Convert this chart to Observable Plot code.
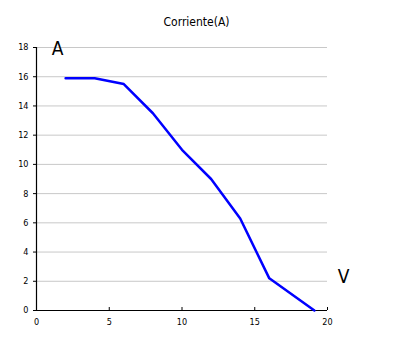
<!DOCTYPE html>
<html><head><meta charset="utf-8">
<script src="https://cdn.jsdelivr.net/npm/d3@7"></script>
<script src="https://cdn.jsdelivr.net/npm/@observablehq/plot@0.6"></script>
<style>body{margin:0;background:#fff;} svg{font-family:"Liberation Sans Narrow","DejaVu Sans Condensed",sans-serif;}</style>
</head><body><div id="chart"></div>
<script>
const voltage = [2, 4, 6, 8, 10, 12, 14, 16, 19.1];
const current = [15.9, 15.9, 15.5, 13.5, 11, 9, 6.3, 2.2, 0];
const xTicks = [0, 5, 10, 15, 20];
const yTicks = [0, 2, 4, 6, 8, 10, 12, 14, 16, 18];
const title = "Corriente(A)";
const yLabel = "A";
const xLabel = "V";

const data = voltage.map((v, i) => ({v, a: current[i]}));
const font = "'Liberation Sans Narrow','DejaVu Sans Condensed',sans-serif";

const chart = Plot.plot({
  width: 398, height: 337,
  marginLeft: 36, marginRight: 71, marginTop: 47, marginBottom: 27,
  style: {fontFamily: font, background: "#fff", color: "#000"},
  x: {domain: [0, 20]},
  y: {domain: [0, 18]},
  marks: [
    Plot.gridY(yTicks, {stroke: "#c8c8c8", strokeOpacity: 1}),
    Plot.axisY({ticks: yTicks, tickSize: 3, tickPadding: 5, fontSize: 9, label: null, color: "#000"}),
    Plot.axisX({ticks: xTicks, tickSize: 0, tickPadding: 8, fontSize: 9, label: null, color: "#000"}),
    Plot.axisX({ticks: xTicks, tickSize: -3, text: null, label: null, color: "#000"}),
    Plot.ruleX([0], {stroke: "#000", strokeWidth: 1.2}),
    Plot.ruleY([0], {stroke: "#000", strokeWidth: 1.2}),
    Plot.line(data, {x: "v", y: "a", stroke: "#0000ff", strokeWidth: 2.5}),
    Plot.text([title], {frameAnchor: "top-left", dx: 160, dy: -30, fontSize: 12, textAnchor: "middle", fill: "#000"}),
    Plot.text([yLabel], {frameAnchor: "top-left", dx: 21, dy: 1, lineAnchor: "middle", fontSize: 19, textAnchor: "middle", fill: "#000"}),
    Plot.text([xLabel], {frameAnchor: "bottom-right", dx: 16, dy: -33.5, lineAnchor: "middle", fontSize: 19, textAnchor: "middle", fill: "#000"})
  ]
});
document.getElementById("chart").append(chart);
</script></body></html>
